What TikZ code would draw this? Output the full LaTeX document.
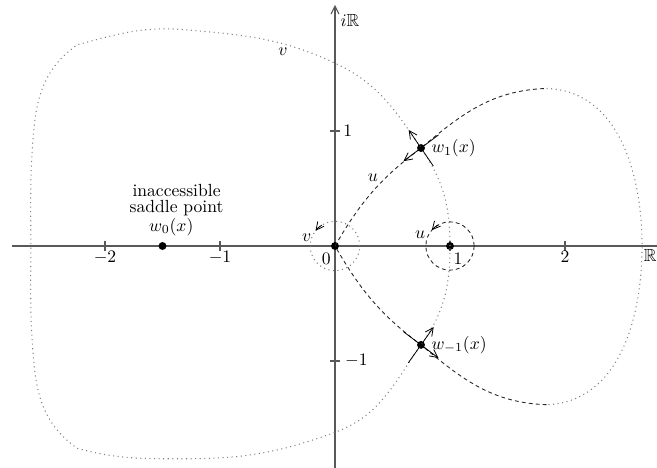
\documentclass[tikz,border=0pt]{standalone}
\usepackage{amssymb}
\usetikzlibrary{arrows.meta,positioning}

\begin{document}
\begin{tikzpicture}[
x=2.3cm, y=2.3cm,
>={Straight Barb[length=4.5pt,width=4.5pt]},
axisline/.style={draw=black!65, line width=0.6pt},
vpath/.style={draw=black!50, line width=0.6pt, dash pattern=on 0.6pt off 2pt},
upath/.style={draw=black!85, line width=0.5pt, dash pattern=on 2.2pt off 1.8pt},
dotnode/.style={circle, fill=black, inner sep=0pt, minimum size=4.5pt},
saddlearrow/.style={->, line width=0.45pt},
ticklabel/.style={inner sep=1pt}
]
\useasboundingbox (-2.913,-1.922) rectangle (2.800,2.139);

% axes
\draw[axisline, ->] (-2.81,0) -- (2.95,0);
\draw[axisline, ->] (0,-1.95) -- (0,2.096);
\foreach \t in {-2,-1,1,2} \draw[axisline] (\t,-0.045) -- (\t,0.045);
\foreach \t in {-1,1} \draw[axisline] (-0.045,\t) -- (0.045,\t);

\foreach \t in {-2,-1,2} \node[ticklabel, below=2pt] (xt\t) at (\t,0) {$\t$};
\node[ticklabel] (xt0) at (-0.075,-0.115) {$0$};
\node[ticklabel] (xt1) at (1.07,-0.115) {$1$};
\node[ticklabel, anchor=west] (yt1) at (0.055,1) {$1$};
\node[ticklabel, anchor=west] (ytm1) at (0.07,-1) {$-1$};
\node[anchor=north west, inner sep=1.5pt] (xlab) at (2.66,0) {$\mathbb{R}$};
\node[anchor=west, inner sep=1pt] (ylab) at (0.03,1.965) {$i\mathbb{R}$};

% critical points
\node[dotnode] (p0) at (0,0) {};
\node[dotnode] (p1) at (1,0) {};
\node[dotnode] (w1) at (0.748,0.852) {};
\node[dotnode] (wm1) at (0.748,-0.86) {};
\node[dotnode] (w0) at (-1.5,0) {};

% v contour
\draw[vpath] (p1.center) to[out=90, in=-55.7] (w1.center)
  to[out=124.3, in=-25] (0,1.59) to[out=155, in=-5] (-1.3,1.88)
  to[out=175, in=15] (-2.24,1.75) to[out=215, in=85] (-2.62,1.0)
  to[out=265, in=90] (-2.645,0) to[out=-90, in=95] (-2.62,-1.0)
  to[out=-85, in=145] (-2.24,-1.76) to[out=-15, in=180] (-1.3,-1.85)
  to[out=0, in=200] (0,-1.62) to[out=20, in=234.7] (wm1.center)
  to[out=54.7, in=-90] (p1.center);

% u contour
\draw[upath] (p0.center) to[out=60, in=216.9] (w1.center) to[out=40, in=182] (1.84,1.37);
\draw[vpath] (1.84,1.37) to[out=-2, in=90] (2.67,0) to[out=-90, in=2] (1.84,-1.38);
\draw[upath] (1.84,-1.38) to[out=178, in=-40] (wm1.center) to[out=143.1, in=-60] (p0.center);

% small loops
\draw[vpath] (p0.center) circle[radius=0.215];
\draw[upath] (p1.center) circle[radius=0.21];
\draw[saddlearrow] (p0.center) ++(122:0.215) arc[start angle=122, end angle=142, radius=0.215];
\draw[saddlearrow] (p1.center) ++(119:0.21) arc[start angle=119, end angle=139, radius=0.21];

% steepest descent directions
\draw[saddlearrow] ([shift={(-55.7:0.19)}]w1.center) -- ([shift={(124.3:0.19)}]w1.center);
\draw[saddlearrow] ([shift={(36.9:0.19)}]w1.center) -- ([shift={(216.9:0.19)}]w1.center);
\draw[saddlearrow] ([shift={(234.7:0.19)}]wm1.center) -- ([shift={(54.7:0.19)}]wm1.center);
\draw[saddlearrow] ([shift={(143.1:0.19)}]wm1.center) -- ([shift={(-36.9:0.19)}]wm1.center);

% labels
\node (vlab) at (-0.452,1.687) {$v$};
\node (ulab) at (0.33,0.59) {$u$};
\node (vlab0) at (-0.245,0.075) {$v$};
\node (ulab1) at (0.74,0.095) {$u$};
\node[right=0pt of w1] (w1lab) {$w_1(x)$};
\node[right=0pt of wm1] (wm1lab) {$w_{-1}(x)$};
\node[above=0pt of w0, xshift=5pt] (w0lab) {$w_0(x)$};
\node[above=-6pt of w0lab, xshift=3pt, align=center] (inacc) {inaccessible\\[-2.9pt]saddle point};
\end{tikzpicture}
\end{document}
